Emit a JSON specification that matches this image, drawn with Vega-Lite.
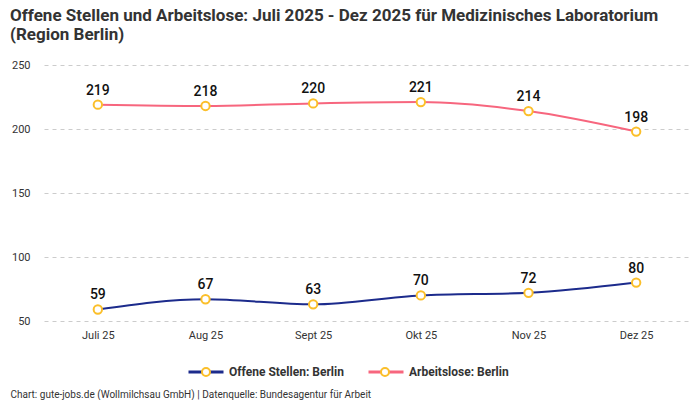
{
  "$schema": "https://vega.github.io/schema/vega-lite/v6.json",
  "width": 646,
  "height": 256,
  "autosize": {"type": "none"},
  "padding": {"left": 44, "top": 65, "right": 10, "bottom": 79},
  "background": "white",
  "title": {
    "text": ["Offene Stellen und Arbeitslose: Juli 2025 - Dez 2025 für Medizinisches Laboratorium", "(Region Berlin)"],
    "anchor": "start",
    "frame": "group",
    "dx": -34,
    "offset": 15,
    "fontSize": 17,
    "fontWeight": "bold",
    "color": "#333333",
    "lineHeight": 19
  },
  "config": {
    "font": "Roboto",
    "view": {"stroke": null}
  },
  "data": {
    "values": [
      {"monat": "Juli 25", "reihe": "Offene Stellen: Berlin", "punkt": "Offene Stellen: Berlin", "wert": 59},
      {"monat": "Aug 25", "reihe": "Offene Stellen: Berlin", "punkt": "Offene Stellen: Berlin", "wert": 67},
      {"monat": "Sept 25", "reihe": "Offene Stellen: Berlin", "punkt": "Offene Stellen: Berlin", "wert": 63},
      {"monat": "Okt 25", "reihe": "Offene Stellen: Berlin", "punkt": "Offene Stellen: Berlin", "wert": 70},
      {"monat": "Nov 25", "reihe": "Offene Stellen: Berlin", "punkt": "Offene Stellen: Berlin", "wert": 72},
      {"monat": "Dez 25", "reihe": "Offene Stellen: Berlin", "punkt": "Offene Stellen: Berlin", "wert": 80},
      {"monat": "Juli 25", "reihe": "Arbeitslose: Berlin", "punkt": "Arbeitslose: Berlin", "wert": 219},
      {"monat": "Aug 25", "reihe": "Arbeitslose: Berlin", "punkt": "Arbeitslose: Berlin", "wert": 218},
      {"monat": "Sept 25", "reihe": "Arbeitslose: Berlin", "punkt": "Arbeitslose: Berlin", "wert": 220},
      {"monat": "Okt 25", "reihe": "Arbeitslose: Berlin", "punkt": "Arbeitslose: Berlin", "wert": 221},
      {"monat": "Nov 25", "reihe": "Arbeitslose: Berlin", "punkt": "Arbeitslose: Berlin", "wert": 214},
      {"monat": "Dez 25", "reihe": "Arbeitslose: Berlin", "punkt": "Arbeitslose: Berlin", "wert": 198}
    ]
  },
  "encoding": {
    "x": {
      "field": "monat",
      "type": "nominal",
      "sort": ["Juli 25", "Aug 25", "Sept 25", "Okt 25", "Nov 25", "Dez 25"],
      "axis": {
        "labelAngle": 0,
        "domain": false,
        "ticks": false,
        "grid": false,
        "labelPadding": 8,
        "labelFontSize": 11,
        "labelColor": "#333333",
        "title": "Chart: gute-jobs.de (Wollmilchsau GmbH) | Datenquelle: Bundesagentur für Arbeit",
        "titleFontSize": 10,
        "titleFontWeight": "normal",
        "titleColor": "#333333",
        "titleAnchor": "start",
        "titleAlign": "left",
        "titleBaseline": "alphabetic",
        "titleX": -34,
        "titleY": 76
      }
    },
    "y": {
      "field": "wert",
      "type": "quantitative",
      "scale": {"domain": [50, 250], "nice": false, "zero": false},
      "axis": {
        "values": [50, 100, 150, 200, 250],
        "title": null,
        "domain": false,
        "ticks": false,
        "labelPadding": 14,
        "labelFontSize": 11,
        "labelColor": "#333333",
        "gridColor": "#cccccc",
        "gridDash": [4, 4]
      }
    }
  },
  "layer": [
    {
      "mark": {"type": "line", "interpolate": "monotone", "strokeWidth": 2},
      "encoding": {
        "color": {
          "field": "reihe",
          "type": "nominal",
          "scale": {"domain": ["Offene Stellen: Berlin", "Arbeitslose: Berlin"], "range": ["#1c2b8c", "#f7667e"]},
          "legend": {
            "title": null,
            "orient": "none",
            "direction": "horizontal",
            "legendX": 143,
            "legendY": 288,
            "symbolType": "stroke",
            "symbolSize": 1225,
            "symbolStrokeWidth": 3,
            "labelOffset": 4,
            "columnPadding": 18,
            "labelFontSize": 12,
            "labelFontWeight": "bold",
            "labelColor": "#333333",
            "zindex": 0
          }
        }
      }
    },
    {
      "mark": {"type": "point", "filled": true, "fill": "white", "stroke": "#fbbf2a", "strokeWidth": 2, "size": 70, "opacity": 1},
      "encoding": {
        "shape": {
          "field": "punkt",
          "type": "nominal",
          "sort": ["Offene Stellen: Berlin", "Arbeitslose: Berlin"],
          "scale": {"range": ["circle", "circle"]},
          "legend": {
            "title": null,
            "orient": "none",
            "direction": "horizontal",
            "legendX": 156,
            "legendY": 301,
            "symbolSize": 64,
            "symbolStrokeWidth": 2,
            "labelOffset": 30,
            "columnPadding": 20,
            "labelFontSize": 12,
            "labelFontWeight": "bold",
            "labelOpacity": 0,
            "zindex": 1,
            "encode": {
              "symbols": {
                "update": {
                  "fill": {"value": "white"},
                  "fillOpacity": {"value": 1},
                  "stroke": {"value": "#fbbf2a"},
                  "strokeOpacity": {"value": 1},
                  "opacity": {"value": 1},
                  "strokeWidth": {"value": 2}
                }
              }
            }
          }
        }
      }
    },
    {
      "mark": {"type": "text", "dy": -10, "baseline": "alphabetic", "fontSize": 14, "fontWeight": 500, "color": "#111111"},
      "encoding": {
        "text": {"field": "wert", "type": "quantitative"}
      }
    }
  ]
}
